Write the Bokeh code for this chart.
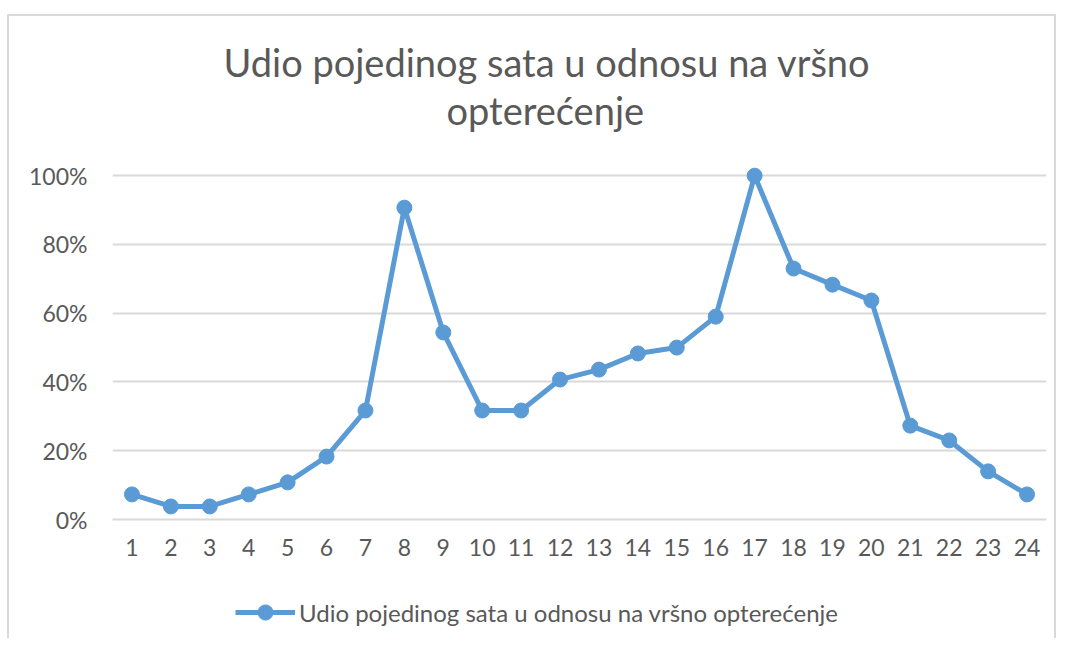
from bokeh.plotting import figure
from bokeh.layouts import column
from bokeh.models import Title, Legend, LegendItem, FixedTicker, NumeralTickFormatter, Range1d
from bokeh.embed import file_html
from bokeh.resources import INLINE

hours = list(range(1, 25))
share = [0.073, 0.038, 0.038, 0.073, 0.108, 0.183, 0.317, 0.907, 0.544, 0.317,
         0.317, 0.407, 0.436, 0.483, 0.500, 0.590, 1.000, 0.730, 0.683, 0.637,
         0.273, 0.230, 0.140, 0.073]
y_ticks = [0, 0.2, 0.4, 0.6, 0.8, 1.0]
title_line1 = "Udio pojedinog sata u odnosu na vršno"
title_line2 = "opterećenje"
series_name = "Udio pojedinog sata u odnosu na vršno opterećenje"

FONT = "Lato"
TXT = "#595959"
BLUE = "#5B9BD5"
GRID = "#D9D9D9"
HAS_STANDOFF = "standoff" in Title.properties()

p = figure(width=1045, height=560, output_backend="svg", toolbar_location=None,
           x_range=Range1d(0.5, 24.5), y_range=Range1d(0, 1.05),
           min_border_left=103, min_border_right=8, min_border_top=142, min_border_bottom=57)
p.outline_line_color = None
p.background_fill_color = "white"
p.border_fill_color = "white"

spacer = Title(text=" ", text_font=FONT, text_font_size="20px")
t2 = Title(text=title_line2, align="left", text_font=FONT, text_font_size="38px",
           text_color=TXT, text_font_style="normal", offset=334)
t1 = Title(text=title_line1, align="left", text_font=FONT, text_font_size="38px",
           text_color=TXT, text_font_style="normal", offset=111)
if HAS_STANDOFF:
    t1.standoff = 0
    t2.standoff = 0
    spacer.standoff = 0
p.add_layout(spacer, "above")
p.add_layout(t2, "above")
p.add_layout(t1, "above")

r_line = p.line(hours, share, line_color=BLUE, line_width=5)
r_pts = p.scatter(hours, share, size=15, fill_color=BLUE, line_color=BLUE)

p.xaxis.ticker = FixedTicker(ticks=hours)
p.yaxis.ticker = FixedTicker(ticks=y_ticks)
p.yaxis.formatter = NumeralTickFormatter(format="0%")
for ax in (p.xaxis, p.yaxis):
    ax.major_tick_line_color = None
    ax.minor_tick_line_color = None
    ax.major_label_text_font = FONT
    ax.major_label_text_font_size = "23px"
    ax.major_label_text_color = TXT
p.yaxis.axis_line_color = None
p.xaxis.axis_line_color = GRID
p.xaxis.axis_line_width = 2
p.xaxis.major_label_standoff = 13
p.yaxis.major_label_standoff = 19
p.xgrid.grid_line_color = None
p.ygrid.grid_line_color = GRID
p.ygrid.grid_line_width = 2

# legend strip below the chart (its sample renderers sit outside the visible range)
p2 = figure(width=1045, height=62, output_backend="svg", toolbar_location=None,
            x_range=Range1d(0, 1), y_range=Range1d(0, 1),
            x_axis_type=None, y_axis_type=None,
            min_border_left=0, min_border_right=0, min_border_top=0, min_border_bottom=0)
p2.outline_line_color = None
p2.grid.grid_line_color = None
p2.border_fill_color = "white"
l_line = p2.line([-10, -9], [-10, -10], line_color=BLUE, line_width=5)
l_pts = p2.scatter([-10], [-10], size=15, fill_color=BLUE, line_color=BLUE)
legend = Legend(items=[LegendItem(label=series_name, renderers=[l_line, l_pts])],
                location=(123, 7), orientation="horizontal",
                label_text_font=FONT, label_text_font_size="24px", label_text_color=TXT,
                glyph_width=60, glyph_height=38, border_line_color=None,
                background_fill_alpha=0, margin=0, padding=5, label_standoff=4)
p2.add_layout(legend, "center")

layout = column(p, p2, spacing=0)
layout.styles = {"border": "2px solid #D9D9D9", "border-bottom": "none",
                 "margin-top": "14px", "margin-left": "7px"}

open("out.html", "w").write(file_html(layout, INLINE))
